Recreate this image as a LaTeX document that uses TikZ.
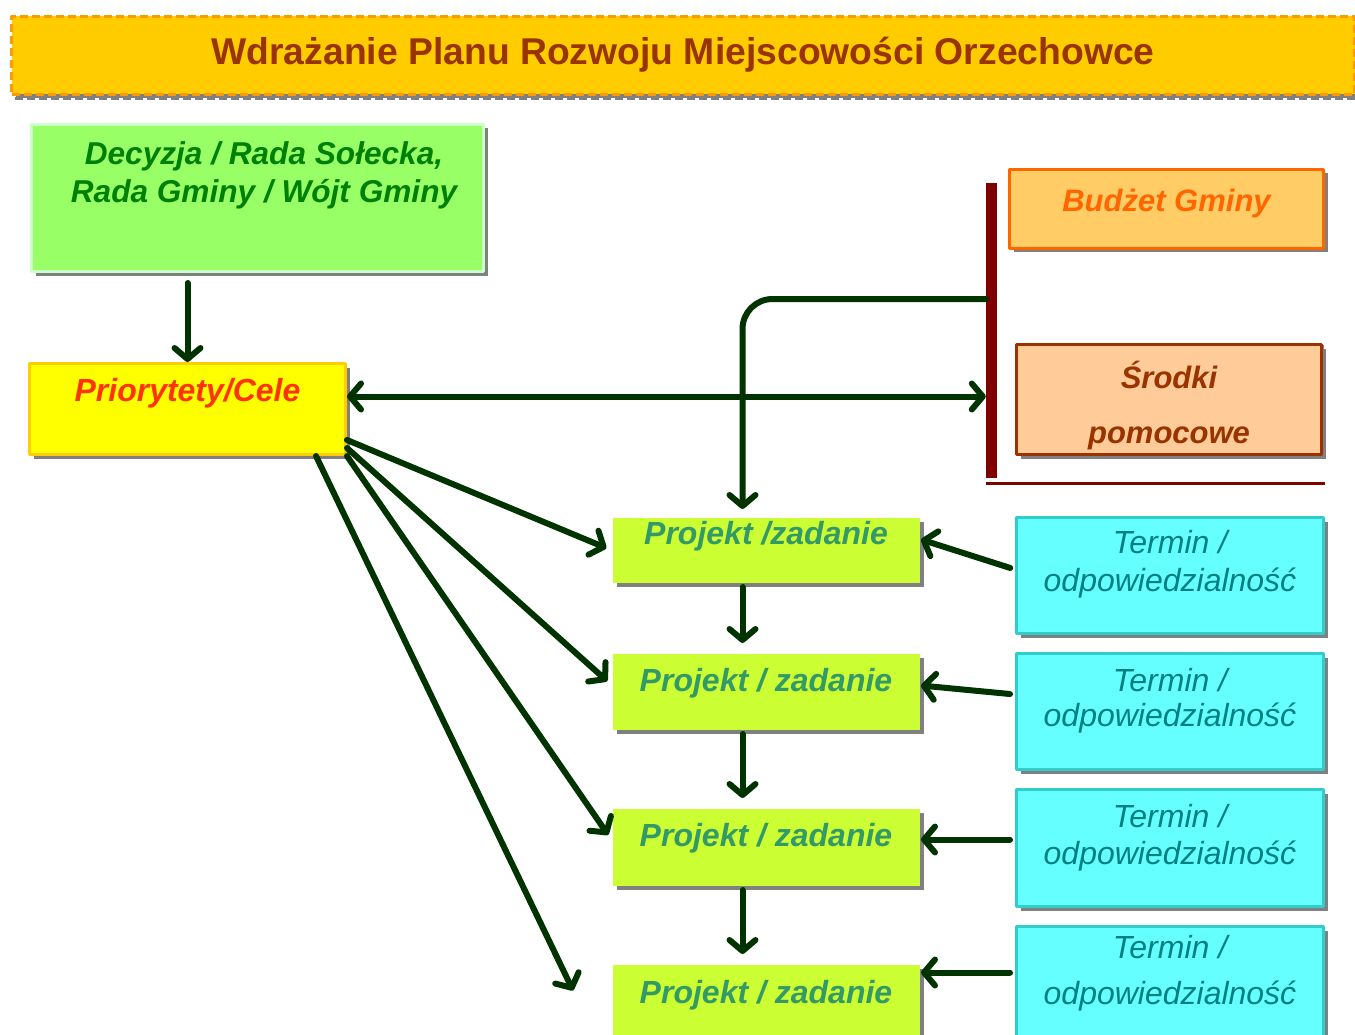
\documentclass[tikz,border=0pt]{standalone}
\usepackage{fontspec}
\setmainfont{Liberation Sans}
\usepackage{xcolor}
\usepackage{tikz}
\usetikzlibrary{arrows.meta}
\usetikzlibrary{shadows}
\usetikzlibrary{positioning}

\definecolor{titlefill}{HTML}{FFCC00}
\definecolor{titleline}{HTML}{FF9900}
\definecolor{titletext}{HTML}{993300}
\definecolor{decfill}{HTML}{99FF66}
\definecolor{decline}{HTML}{CCFFCC}
\definecolor{dectext}{HTML}{008000}
\definecolor{priofill}{HTML}{FFFF00}
\definecolor{prioline}{HTML}{FFCC00}
\definecolor{priotext}{HTML}{FF3300}
\definecolor{budfill}{HTML}{FFCC66}
\definecolor{budline}{HTML}{FF6600}
\definecolor{srfill}{HTML}{FFCC99}
\definecolor{srline}{HTML}{993300}
\definecolor{projfill}{HTML}{CCFF33}
\definecolor{projtext}{HTML}{339966}
\definecolor{termfill}{HTML}{66FFFF}
\definecolor{termline}{HTML}{33CCCC}
\definecolor{termtext}{HTML}{008080}
\definecolor{arrowgreen}{HTML}{003300}
\definecolor{barred}{HTML}{800000}
\definecolor{shadowgray}{HTML}{808080}

\newcommand{\boxtext}[4]{\parbox[c][#1pt][t]{#2pt}{\centering\rule{0pt}{#3pt}#4}}
\newcommand{\bfit}[2]{\fontsize{#1}{#2}\selectfont\bfseries\itshape}
\newcommand{\rmit}[2]{\fontsize{#1}{#2}\selectfont\itshape}

\begin{document}
\begin{tikzpicture}[x=1pt, y=-1pt, line join=round, >={Straight Barb[length=11pt,width=26pt,round]}]
    \tikzstyle{box}=[rectangle, inner sep=0pt, anchor=north west, line width=3pt,
        drop shadow={shadow xshift=4pt, shadow yshift=-4pt, fill=shadowgray, opacity=1}]
    \tikzstyle{proj}=[box, fill=projfill, text=projtext, font=\bfit{32}{38}]
    \tikzstyle{term}=[box, fill=termfill, draw=termline, text=termtext]
    \tikzstyle{arr}=[draw=arrowgreen, line width=6pt, line cap=round, ->]
\useasboundingbox (0,0) rectangle (1355,1035);

\node[box, fill=titlefill, draw=titleline, dash pattern=on 8pt off 4pt, text=titletext,
    font={\fontsize{37.3}{44}\selectfont\bfseries},
    drop shadow={shadow xshift=3pt, shadow yshift=-4pt, fill=none, draw=shadowgray,
        line width=3pt, dash pattern=on 8pt off 4pt, opacity=1}]
    (title) at (10,15) {\boxtext{78}{1343}{48}{Wdrażanie Planu Rozwoju Miejscowości Orzechowce}};

\node[box, fill=decfill, draw=decline, text=dectext, font=\bfit{31.6}{38}]
    (dec) at (30,123) {\boxtext{147}{452}{40}{\hspace*{13pt}Decyzja / Rada Sołecka,\\\hspace*{13pt}Rada Gminy / Wójt Gminy}};
\node[box, fill=priofill, draw=prioline, text=priotext, font=\bfit{32}{38}]
    (prio) at (28,362) {\boxtext{91}{316}{38}{Priorytety/Cele}};
\node[box, fill=budfill, draw=budline, text=budline, font=\bfit{31}{38}]
    (bud) at (1008,168) {\boxtext{79}{314}{42}{Budżet Gminy}};
\node[box, fill=srfill, draw=srline, text=srline, font=\bfit{31}{55},
    drop shadow={shadow xshift=2pt, shadow yshift=0pt, fill=shadowgray, opacity=1}]
    (srodki) at (1015,343) {\boxtext{110}{305}{44}{Środki\\pomocowe}};

\node[fill=barred, inner sep=0pt, minimum width=11pt, minimum height=295pt] (bar) at (991.5,330.5) {};

% projekty
\node[proj] (p1) at (611,516) {\boxtext{65}{307}{27}{Projekt /zadanie}};
\node[proj] (p2) at (611,652) {\boxtext{76}{307}{38}{Projekt / zadanie}};
\node[proj] (p3) at (611,807) {\boxtext{77}{307}{38}{Projekt / zadanie}};
\node[proj] (p4) at (611,963) {\boxtext{82}{307}{39}{Projekt / zadanie}};

% terminy
\node[term, font=\rmit{32}{38}] (t1) at (1015,516) {\boxtext{116}{307}{36}{Termin /\\odpowiedzialność}};
\node[term, font=\rmit{32}{35}] (t2) at (1015,652) {\boxtext{116}{307}{38}{Termin /\\odpowiedzialność}};
\node[term, font=\rmit{32}{37}] (t3) at (1015,788) {\boxtext{117}{307}{38}{Termin /\\odpowiedzialność}};
\node[term, font=\rmit{32}{46}] (t4) at (1015,925) {\boxtext{120}{307}{32}{Termin /\\odpowiedzialność}};

\coordinate (decbot) at ([yshift=-10pt]dec.south);
\coordinate (prioR) at ([yshift=12.5pt]prio.east);
\coordinate (barR) at ([yshift=31.5pt]bar.west);
\coordinate (barbot) at ([yshift=-5pt]bar.south west);

\draw[barred, line width=3pt] (barbot) -- (barbot -| t1.east);

\draw[arr] (decbot -| prio.north) -- (prio.north);
\draw[arr, <->] (prioR) -- (prioR -| bar.west);
\draw[arr, rounded corners=30pt, shorten >=7pt] (barR) -| ([xshift=-23.5pt]p1.north);

\foreach \a/\b in {p1/p2,p2/p3,p3/p4}{
    \draw[arr, shorten <=3pt, shorten >=9pt] ([xshift=-23.5pt]\a.south) -- ([xshift=-23.5pt]\b.north);
}

\draw[arr, shorten <=5pt] ([yshift=6pt]t1.west) -- ([yshift=10.5pt]p1.east);
\draw[arr, shorten <=5pt] ([yshift=17pt]t2.west) -- ([yshift=6pt]p2.east);
\draw[arr, shorten <=5pt] ([yshift=8.5pt]t3.west) -- ([yshift=7.5pt]p3.east);
\draw[arr, shorten <=5pt] ([yshift=14pt]t4.west) -- ([yshift=33pt]p4.east);

\draw[arr, shorten >=5pt] ([yshift=16pt]prio.south east) -- (p1.west);
\draw[arr, shorten >=5pt] ([yshift=8pt]prio.south east) -- ([yshift=7pt]p2.west);
\draw[arr, shorten >=5pt] (prio.south east) -- ([yshift=8pt]p3.west);
\draw[arr] ([xshift=-31pt]prio.south east) -- ([xshift=-38pt,yshift=15pt]p4.west);
\end{tikzpicture}
\end{document}
